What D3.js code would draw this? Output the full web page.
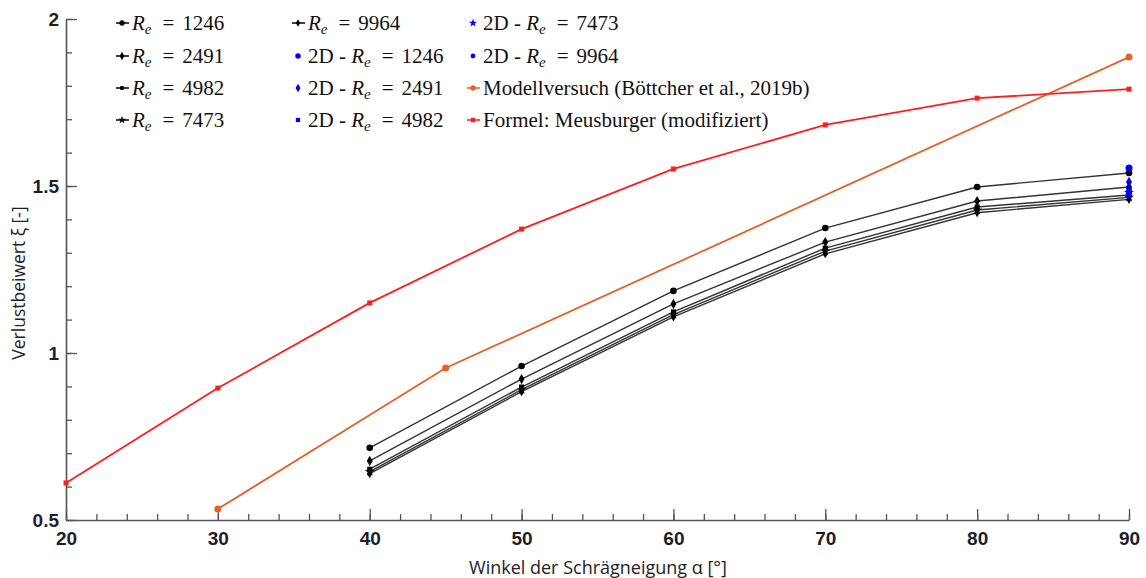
<!DOCTYPE html>
<html>
<head>
<meta charset="utf-8">
<script src="https://cdn.jsdelivr.net/npm/d3@7"></script>
<style>
  body { margin: 0; background: #fff; }
  svg { display: block; }
</style>
</head>
<body>
<svg id="chart" width="1146" height="578"></svg>
<script>
// values
let angles = [40, 50, 60, 70, 80, 90];
let re1246 = [0.716, 0.961, 1.186, 1.374, 1.497, 1.539];
let re2491 = [0.677, 0.922, 1.147, 1.332, 1.455, 1.497];
let re4982 = [0.652, 0.898, 1.123, 1.314, 1.437, 1.473];
let re7473 = [0.645, 0.890, 1.115, 1.305, 1.428, 1.466];
let re9964 = [0.639, 0.884, 1.108, 1.297, 1.420, 1.460];

let angle2D = 90;
let vals2D = [1.554, 1.512, 1.488, 1.480, 1.475]; // 1246, 2491, 4982, 7473, 9964

let modellAngles = [30, 45, 90];
let modellVals = [0.533, 0.955, 1.886];

let formelAngles = [20, 30, 40, 50, 60, 70, 80, 90];
let formelVals = [0.611, 0.895, 1.150, 1.371, 1.551, 1.683, 1.763, 1.790];

let xTicks = [20, 30, 40, 50, 60, 70, 80, 90];
let yTicks = [0.5, 1, 1.5, 2];

let svg = d3.select("#chart");

let x = d3.scaleLinear().domain([20, 90]).range([66, 1129]);
let y = d3.scaleLinear().domain([0.5, 2]).range([520, 19]);

let axisColor = "#555";
let tickFont = "bold 19px 'Liberation Sans', Arial, sans-serif";

// minor ticks
svg.append("g")
  .attr("transform", "translate(0,520)")
  .call(d3.axisBottom(x).tickValues(d3.range(20, 91, 2)).tickSize(-6).tickFormat(""))
  .call(g => g.select(".domain").remove())
  .selectAll("line").attr("stroke", axisColor).attr("stroke-width", 1.3);

svg.append("g")
  .attr("transform", "translate(66,0)")
  .call(d3.axisLeft(y).tickValues(d3.range(5, 21).map(d => d / 10)).tickSize(-6).tickFormat(""))
  .call(g => g.select(".domain").remove())
  .selectAll("line").attr("stroke", axisColor).attr("stroke-width", 1.3);

// major ticks + labels
let xAxis = svg.append("g")
  .attr("transform", "translate(0,520)")
  .call(d3.axisBottom(x).tickValues(xTicks).tickSizeInner(-11).tickSizeOuter(0).tickPadding(12).tickFormat(d3.format("d")));

let yAxis = svg.append("g")
  .attr("transform", "translate(66,0)")
  .call(d3.axisLeft(y).tickValues(yTicks).tickSizeInner(-11).tickSizeOuter(0).tickPadding(7).tickFormat(d => d));

[xAxis, yAxis].forEach(a => {
  a.select(".domain").attr("stroke", axisColor).attr("stroke-width", 1.6);
  a.selectAll(".tick line").attr("stroke", axisColor).attr("stroke-width", 1.3);
  a.selectAll(".tick text").style("font", tickFont).attr("fill", "#1e1e28");
});

// axis titles
svg.append("text")
  .attr("x", 598).attr("y", 574)
  .attr("text-anchor", "middle")
  .style("font", "18px 'Open Sans', sans-serif")
  .attr("fill", "#222")
  .text("Winkel der Schrägneigung α [°]");

svg.append("text")
  .attr("transform", "translate(25,283) rotate(-90)")
  .attr("text-anchor", "middle")
  .style("font", "17.5px 'Open Sans', sans-serif")
  .attr("fill", "#222")
  .text("Verlustbeiwert ξ [-]");

let line = d3.line().x(d => x(d[0])).y(d => y(d[1]));

let reSeries = [
  {re: 1246, vals: re1246, sym: d3.symbolCircle, size: 34},
  {re: 2491, vals: re2491, sym: d3.symbolDiamond, size: 30},
  {re: 4982, vals: re4982, sym: d3.symbolSquare, size: 26},
  {re: 7473, vals: re7473, sym: d3.symbolStar, size: 30},
  {re: 9964, vals: re9964, sym: d3.symbolDiamond, size: 24}
];

let blueSyms = [d3.symbolCircle, d3.symbolDiamond, d3.symbolSquare, d3.symbolStar, d3.symbolCircle];

// simulation lines (black)
reSeries.slice().reverse().forEach(s => {
  let pts = angles.map((a, i) => [a, s.vals[i]]);
  svg.append("path").datum(pts)
    .attr("d", line)
    .attr("fill", "none")
    .attr("stroke", "#333")
    .attr("stroke-width", 1.4);
  svg.selectAll(null).data(pts).enter().append("path")
    .attr("d", d3.symbol().type(s.sym).size(s.size))
    .attr("transform", d => `translate(${x(d[0])},${y(d[1])})`)
    .attr("fill", "#000");
});

// 2D points
svg.selectAll(null).data(vals2D).enter().append("path")
  .attr("d", (d, i) => d3.symbol().type(blueSyms[i]).size(i == 0 ? 40 : 32)())
  .attr("transform", d => `translate(${x(angle2D)},${y(d)})`)
  .attr("fill", "#0000ff");

// Modellversuch
let modellPts = modellAngles.map((a, i) => [a, modellVals[i]]);
svg.append("path").datum(modellPts)
  .attr("d", line).attr("fill", "none")
  .attr("stroke", "#e2622b").attr("stroke-width", 1.8);
svg.selectAll(null).data(modellPts).enter().append("circle")
  .attr("cx", d => x(d[0])).attr("cy", d => y(d[1])).attr("r", 3.5)
  .attr("fill", "#e2622b");

// Formel Meusburger
let formelPts = formelAngles.map((a, i) => [a, formelVals[i]]);
svg.append("path").datum(formelPts)
  .attr("d", line).attr("fill", "none")
  .attr("stroke", "#ff1e1e").attr("stroke-width", 1.8);
svg.selectAll(null).data(formelPts).enter().append("rect")
  .attr("x", d => x(d[0]) - 2.5).attr("y", d => y(d[1]) - 2.5)
  .attr("width", 5).attr("height", 5)
  .attr("fill", "#ff1e1e");

// legend
let legendFont = "21px 'Liberation Serif', 'Times New Roman', serif";
let rowY = [23, 56, 88, 120];
let colX = [122, 298, 473];

let legendItems = [
  {col: 0, row: 0, type: "re", re: 1246, sym: d3.symbolCircle, size: 22, color: "#000", line: true},
  {col: 0, row: 1, type: "re", re: 2491, sym: d3.symbolDiamond, size: 20, color: "#000", line: true},
  {col: 0, row: 2, type: "re", re: 4982, sym: d3.symbolSquare, size: 14, color: "#000", line: true},
  {col: 0, row: 3, type: "re", re: 7473, sym: d3.symbolStar, size: 20, color: "#000", line: true},
  {col: 1, row: 0, type: "re", re: 9964, sym: d3.symbolDiamond, size: 16, color: "#000", line: true},
  {col: 1, row: 1, type: "2d", re: 1246, sym: d3.symbolCircle, size: 24, color: "#0000ff", line: false},
  {col: 1, row: 2, type: "2d", re: 2491, sym: d3.symbolDiamond, size: 22, color: "#0000ff", line: false},
  {col: 1, row: 3, type: "2d", re: 4982, sym: d3.symbolSquare, size: 18, color: "#0000ff", line: false},
  {col: 2, row: 0, type: "2d", re: 7473, sym: d3.symbolStar, size: 22, color: "#0000ff", line: false},
  {col: 2, row: 1, type: "2d", re: 9964, sym: d3.symbolCircle, size: 18, color: "#0000ff", line: false},
  {col: 2, row: 2, type: "txt", label: "Modellversuch (Böttcher et al., 2019b)", sym: d3.symbolCircle, size: 22, color: "#e2622b", line: true},
  {col: 2, row: 3, type: "txt", label: "Formel: Meusburger (modifiziert)", sym: d3.symbolSquare, size: 20, color: "#ff1e1e", line: true}
];

legendItems.forEach(it => {
  let lx = colX[it.col], ly = rowY[it.row];
  let g = svg.append("g");
  if (it.line) {
    g.append("line")
      .attr("x1", lx - 6).attr("x2", lx + 7)
      .attr("y1", ly).attr("y2", ly)
      .attr("stroke", it.color).attr("stroke-width", 1.5);
  }
  g.append("path")
    .attr("d", d3.symbol().type(it.sym).size(it.size))
    .attr("transform", `translate(${lx},${ly})`)
    .attr("fill", it.color);

  let t = g.append("text")
    .attr("x", lx + 10).attr("y", ly + 7)
    .style("font", legendFont)
    .attr("fill", "#111");
  if (it.type == "txt") {
    t.text(it.label);
    return;
  }
  if (it.type == "2d") t.append("tspan").text("2D - ");
  t.append("tspan").attr("font-style", "italic").text("R");
  t.append("tspan").attr("font-style", "italic").attr("font-size", 15).attr("dy", 4).text("e");
  t.append("tspan").attr("dy", -4).attr("dx", 11).text("=");
  t.append("tspan").attr("dx", 8).text(it.re);
});
</script>
</body>
</html>
